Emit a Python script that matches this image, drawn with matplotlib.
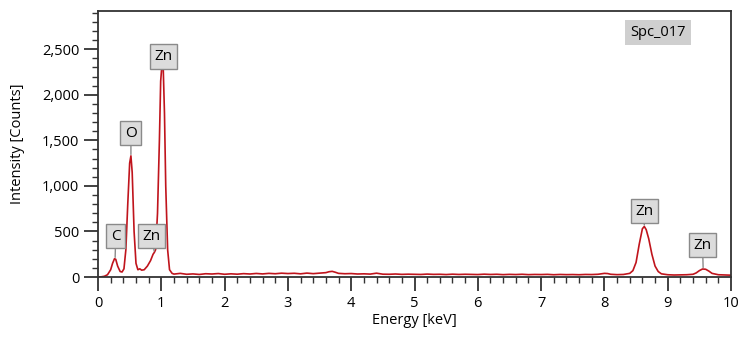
import numpy as np
import matplotlib
matplotlib.use("Agg")
from matplotlib import pyplot as plt

plt.rcParams["font.family"] = ["Open Sans", "DejaVu Sans"]

# spectrum, split by region
low_keV = [0.00, 0.05, 0.10, 0.15, 0.20, 0.23, 0.26, 0.28, 0.31, 0.35, 0.38, 0.41,
           0.44, 0.47, 0.50, 0.52, 0.54, 0.57, 0.60, 0.63, 0.66, 0.69, 0.73, 0.78,
           0.83, 0.87, 0.89, 0.91, 0.94, 0.97, 0.99, 1.01, 1.03, 1.05, 1.07, 1.10,
           1.13, 1.17]
low_cts = [0, 2, 8, 25, 80, 150, 200, 195, 120, 60, 55, 90,
           300, 800, 1250, 1330, 1150, 500, 150, 80, 90, 75, 80, 120,
           180, 250, 270, 300, 700, 1500, 2150, 2330, 2300, 1800, 1000, 300,
           80, 40]

mid_keV = [1.2, 1.3, 1.4, 1.5, 1.6, 1.7, 1.8, 1.9, 2.0, 2.1, 2.2, 2.3, 2.4, 2.5,
           2.6, 2.7, 2.8, 2.9, 3.0, 3.1, 3.2, 3.3, 3.4, 3.5, 3.6, 3.65, 3.7, 3.75,
           3.8, 3.9, 4.0, 4.1, 4.2, 4.3, 4.4, 4.5, 4.6, 4.7, 4.8, 4.9, 5.0, 5.1,
           5.2, 5.3, 5.4, 5.5, 5.6, 5.7, 5.8, 5.9, 6.0, 6.1, 6.2, 6.3, 6.4, 6.5,
           6.6, 6.7, 6.8, 6.9, 7.0, 7.1, 7.2, 7.3, 7.4, 7.5, 7.6, 7.7]
mid_cts = [32, 40, 30, 34, 28, 36, 33, 38, 30, 35, 31, 37, 33, 39,
           34, 40, 36, 42, 38, 41, 35, 43, 37, 42, 48, 58, 62, 52,
           40, 36, 38, 33, 35, 32, 42, 31, 30, 33, 29, 31, 30, 28,
           32, 29, 30, 27, 31, 28, 30, 29, 27, 31, 28, 30, 26, 29,
           27, 30, 26, 28, 27, 29, 25, 28, 26, 27, 25, 28]

high_keV = [7.8, 7.9, 7.95, 8.0, 8.05, 8.1, 8.2, 8.3, 8.4, 8.45, 8.5, 8.55, 8.6,
            8.63, 8.66, 8.7, 8.75, 8.8, 8.85, 8.9, 9.0, 9.1, 9.2, 9.3, 9.4, 9.45,
            9.5, 9.55, 9.6, 9.65, 9.7, 9.8, 9.9, 10.0]
high_cts = [27, 30, 35, 40, 38, 30, 26, 28, 40, 70, 160, 360, 530,
            555, 520, 420, 250, 120, 60, 35, 25, 22, 24, 25, 30, 45,
            70, 88, 85, 65, 40, 25, 22, 20]

# element labels: text, peak (x, y), box (x, y)
labels = ["C", "O", "Zn", "Zn", "Zn", "Zn"]
peak_x = [0.27, 0.52, 1.02, 0.89, 8.63, 9.56]
peak_y = [200, 1330, 2330, 270, 555, 88]
box_x = [0.28, 0.52, 1.03, 0.85, 8.63, 9.55]
box_y = [450, 1580, 2420, 450, 724, 350]

energy = np.array(low_keV + mid_keV + high_keV)
counts = np.array(low_cts + mid_cts + high_cts)

fig = plt.figure(figsize=(7.47, 3.37), dpi=100)
ax = fig.add_axes([0.1312, 0.178, 0.8474, 0.7894])

ax.plot(energy, counts, color="#c0141c", lw=1.2)

ax.set_xlim(0, 10)
ax.set_ylim(0, 2920)
ax.set_xticks(range(0, 11))
ax.set_xticks(np.arange(0, 10.01, 0.2), minor=True)
ax.set_yticks(range(0, 2501, 500))
ax.set_yticks(range(0, 2901, 100), minor=True)
ax.yaxis.set_major_formatter(matplotlib.ticker.StrMethodFormatter("{x:,.0f}"))
ax.tick_params(which="major", length=10, width=1.3, labelsize=10.5, color="#333333")
ax.tick_params(which="minor", length=4, width=1.0, color="#333333")
ax.tick_params(axis="x", pad=4)

for s in ax.spines.values():
    s.set_color("#333333")
    s.set_linewidth(1.3)

ax.set_xlabel("Energy [keV]", fontsize=10.5, labelpad=1)
ax.set_ylabel("Intensity [Counts]", fontsize=10.5, labelpad=12)

for t, px, py, bx, by in zip(labels, peak_x, peak_y, box_x, box_y):
    ax.annotate(t, xy=(px, py), xytext=(bx, by), ha="center", va="center",
                fontsize=11,
                bbox=dict(boxstyle="square,pad=0.3", fc="#dcdcdc", ec="#8a8a8a", lw=1),
                arrowprops=dict(arrowstyle="-", color="#8a8a8a", lw=1, shrinkA=0, shrinkB=1))

ax.text(0.885, 0.92, "Spc_017", transform=ax.transAxes, ha="center", va="center",
        fontsize=10.5, bbox=dict(boxstyle="square,pad=0.35", fc="#cfcfcf", ec="none"))

fig.savefig("out.png", dpi=100)
